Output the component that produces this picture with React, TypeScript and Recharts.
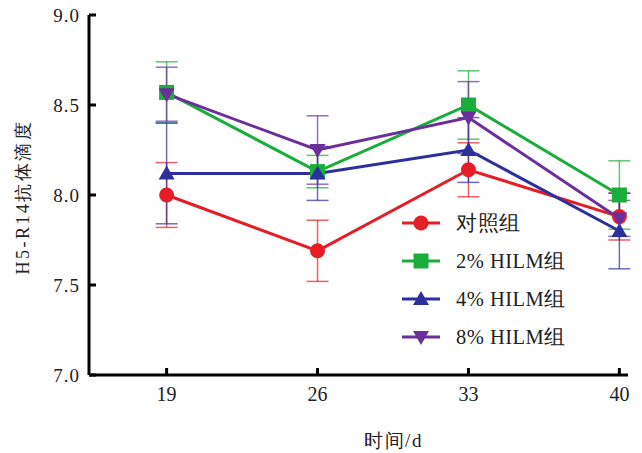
import React from 'react';
import { LineChart, Line, XAxis, YAxis, ErrorBar, Label } from 'recharts';

const days = [19, 26, 33, 40];
const control = [8.0, 7.69, 8.14, 7.88];
const controlErr = [0.18, 0.17, 0.15, 0.13];
const hilm2 = [8.57, 8.13, 8.5, 8.0];
const hilm2Err = [0.17, 0.09, 0.19, 0.19];
const hilm4 = [8.12, 8.12, 8.25, 7.8];
const hilm4Err = [0.28, 0.15, 0.18, 0.21];
const hilm8 = [8.56, 8.25, 8.43, 7.87];
const hilm8Err = [0.15, 0.19, 0.2, 0.1];
const yTicks = [7.0, 7.5, 8.0, 8.5, 9.0];
const seriesNames = ['对照组', '2% HILM组', '4% HILM组', '8% HILM组'];
const xTitle = '时间/d';
const yTitle = 'H5-R14抗体滴度';

const data = days.map((d, i) => ({
  day: d,
  c: control[i], ce: controlErr[i],
  h2: hilm2[i], h2e: hilm2Err[i],
  h4: hilm4[i], h4e: hilm4Err[i],
  h8: hilm8[i], h8e: hilm8Err[i],
}));

const RED = '#e51d24';
const GREEN = '#1aad3c';
const BLUE = '#2c2f9c';
const PURPLE = '#6b2f9c';
const FONT = '"Liberation Serif", "Times New Roman", serif';

type Shape = 'circle' | 'square' | 'tri' | 'inv';

const drawMarker = (shape: Shape, cx: number, cy: number, color: string, key?: any) => {
  if (shape === 'circle') return <circle key={key} cx={cx} cy={cy} r={7.5} fill={color} />;
  if (shape === 'square') return <rect key={key} x={cx - 7.5} y={cy - 7.5} width={15} height={15} fill={color} />;
  if (shape === 'tri')
    return <polygon key={key} points={`${cx},${cy - 8} ${cx - 8},${cy + 6} ${cx + 8},${cy + 6}`} fill={color} />;
  return <polygon key={key} points={`${cx},${cy + 8} ${cx - 8},${cy - 6} ${cx + 8},${cy - 6}`} fill={color} />;
};

const dotFn = (shape: Shape, color: string) => (props: any) =>
  drawMarker(shape, props.cx, props.cy, color, `${shape}-${props.index}`);

const series = [
  { key: 'c', err: 'ce', color: RED, shape: 'circle' as Shape },
  { key: 'h2', err: 'h2e', color: GREEN, shape: 'square' as Shape },
  { key: 'h4', err: 'h4e', color: BLUE, shape: 'tri' as Shape },
  { key: 'h8', err: 'h8e', color: PURPLE, shape: 'inv' as Shape },
];

const YTick = (props: any) => {
  const { x, y, payload } = props;
  const ax = x + 9;
  return (
    <g>
      <line x1={ax} x2={ax + 7} y1={y} y2={y} stroke="#000" strokeWidth={3} />
      <text x={x} y={y} dy={6.5} textAnchor="end" fontFamily={FONT} fontSize={19} letterSpacing={1} fill="#222">
        {payload.value.toFixed(1)}
      </text>
    </g>
  );
};

const XTick = (props: any) => {
  const { x, y, payload } = props;
  const ay = y - 10;
  return (
    <g>
      <line x1={x} x2={x} y1={ay} y2={ay - 7} stroke="#000" strokeWidth={3} />
      <text x={x} y={y} dy={16} textAnchor="middle" fontFamily={FONT} fontSize={20} fill="#222">
        {payload.value}
      </text>
    </g>
  );
};

const XTitle = (props: any) => {
  const vb = props.viewBox;
  return (
    <text x={vb.x + vb.width / 2 + 35} y={vb.y + 72} textAnchor="middle" fontFamily={FONT} fontSize={19} letterSpacing={1.5} fill="#222">
      {xTitle}
    </text>
  );
};

const YTitle = (props: any) => {
  const vb = props.viewBox;
  const cx = vb.x + 29;
  const cy = vb.y + vb.height / 2 + 2;
  return (
    <text
      x={cx}
      y={cy}
      transform={`rotate(-90, ${cx}, ${cy})`}
      textAnchor="middle"
      fontFamily={FONT}
      fontSize={18}
      letterSpacing={2.5}
      fill="#222"
    >
      {yTitle}
    </text>
  );
};

const LegendBox = () => (
  <div style={{ position: 'absolute', left: 400, top: 204, fontFamily: FONT, fontSize: 20.5, letterSpacing: 0.5, color: '#222' }}>
    {series.map((s, i) => (
      <div key={s.key} style={{ display: 'flex', alignItems: 'center', height: 38 }}>
        <svg width={42} height={20}>
          <line x1={2} x2={40} y1={10} y2={10} stroke={s.color} strokeWidth={3} />
          {drawMarker(s.shape, 21, 10, s.color)}
        </svg>
        <span style={{ marginLeft: 14 }}>{seriesNames[i]}</span>
      </div>
    ))}
  </div>
);

export default function App() {
  return (
    <div style={{ position: 'absolute', left: 0, top: 0, width: 642, height: 453, background: '#fff' }}>
      <LineChart width={642} height={453} data={data} margin={{ top: 15, right: 14, left: 0, bottom: 38 }}>
        <XAxis
          dataKey="day"
          type="number"
          domain={[15.4, 40.4]}
          ticks={days}
          tickLine={false}
          tickSize={0}
          tickMargin={10}
          tick={<XTick />}
          stroke="#000"
          strokeWidth={3}
          height={40}
          allowDataOverflow
        >
          <Label content={<XTitle />} />
        </XAxis>
        <YAxis
          domain={[7, 9]}
          ticks={yTicks}
          tickLine={false}
          tickSize={0}
          tickMargin={9}
          tick={<YTick />}
          stroke="#000"
          strokeWidth={3}
          width={89}
          allowDataOverflow
        >
          <Label content={<YTitle />} />
        </YAxis>
        {series.map((s) => (
          <Line
            key={s.key}
            dataKey={s.key}
            stroke={s.color}
            strokeWidth={3}
            dot={dotFn(s.shape, s.color)}
            activeDot={false}
            isAnimationActive={false}
          >
            <ErrorBar dataKey={s.err} width={11} stroke={s.color} strokeWidth={1.5} strokeOpacity={0.7} direction="y" />
          </Line>
        ))}
      </LineChart>
      <LegendBox />
    </div>
  );
}
